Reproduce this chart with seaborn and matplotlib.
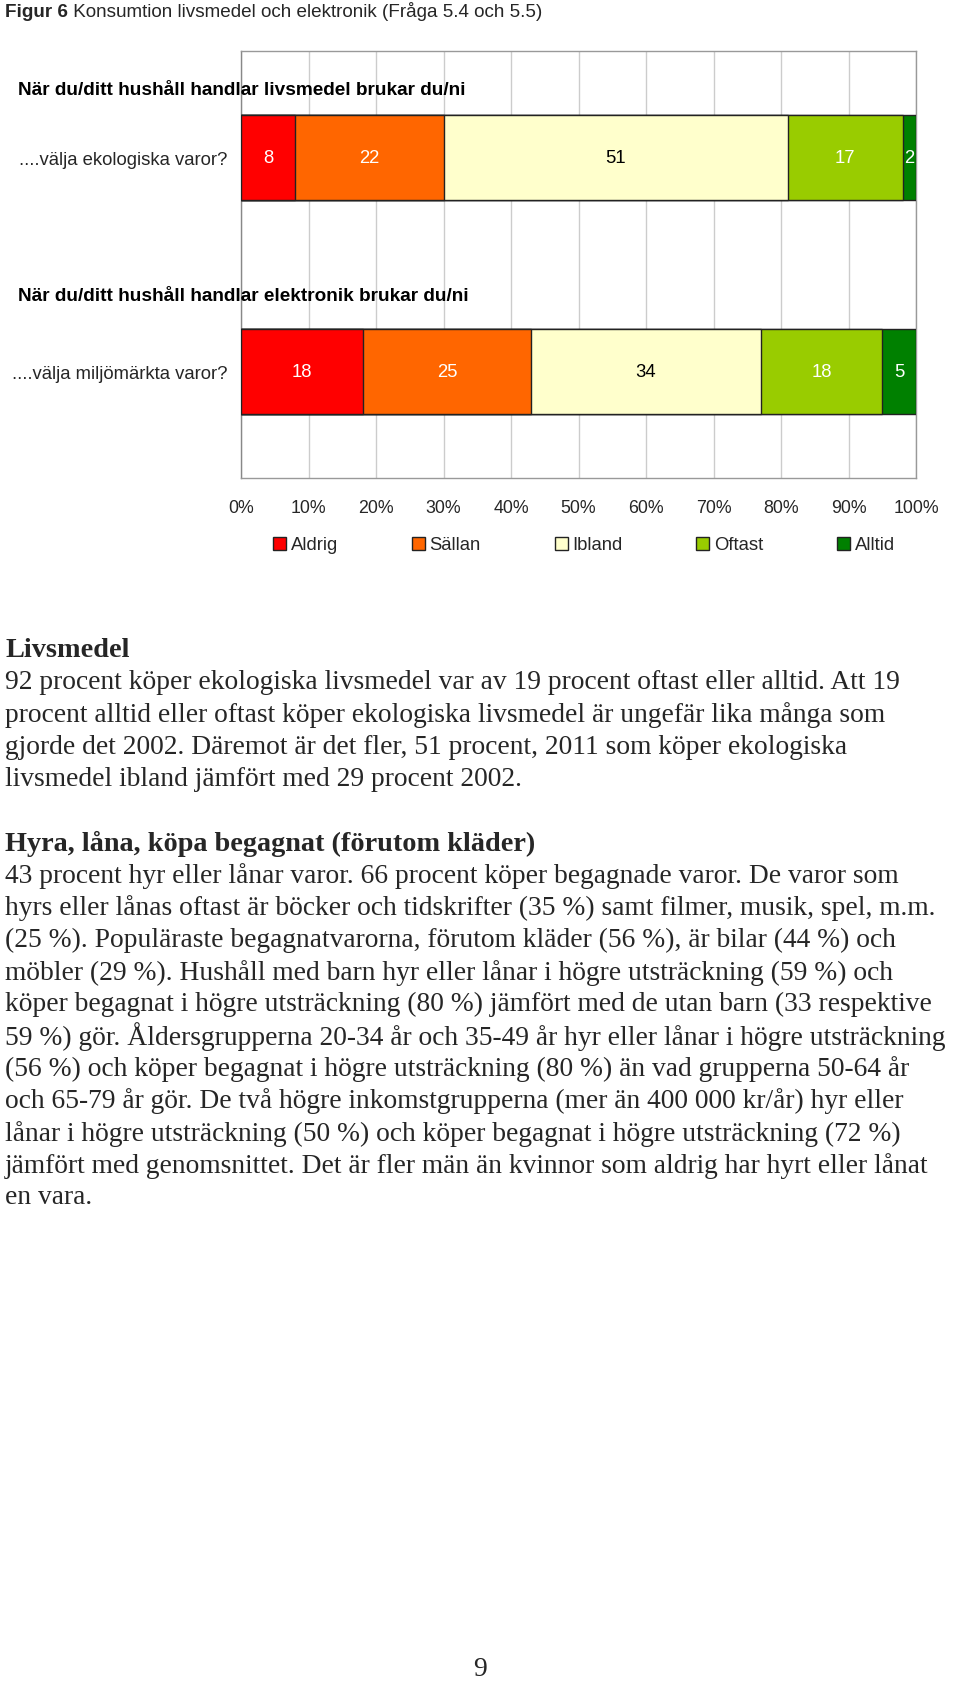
import matplotlib
matplotlib.use("Agg")
import matplotlib.pyplot as plt
import seaborn as sns
import pandas as pd
import numpy as np
from matplotlib.patches import Patch
import matplotlib.transforms as mtransforms

sns.set_theme(style="white")
plt.rcParams['font.family'] = ['Liberation Sans', 'DejaVu Sans']

# ---------------- data ----------------
questions = ["....välja ekologiska varor?", "....välja miljömärkta varor?"]
headers = ["När du/ditt hushåll handlar livsmedel brukar du/ni",
           "När du/ditt hushåll handlar elektronik brukar du/ni"]
levels = ["Aldrig", "Sällan", "Ibland", "Oftast", "Alltid"]
aldrig = [8, 18]
sallan = [22, 25]
ibland = [51, 34]
oftast = [17, 18]
alltid = [2, 5]
colors = ["#FF0000", "#FF6600", "#FFFFCC", "#99CC00", "#008000"]
label_colors = ["white", "white", "black", "white", "white"]
xticks = [0, 10, 20, 30, 40, 50, 60, 70, 80, 90, 100]
xticklabels = ["0%", "10%", "20%", "30%", "40%", "50%", "60%", "70%", "80%", "90%", "100%"]

title_bold = "Figur 6"
title_rest = " Konsumtion livsmedel och elektronik (Fråga 5.4 och 5.5)"

heading1 = "Livsmedel"
para1 = [
    "92 procent köper ekologiska livsmedel var av 19 procent oftast eller alltid. Att 19",
    "procent alltid eller oftast köper ekologiska livsmedel är ungefär lika många som",
    "gjorde det 2002. Däremot är det fler, 51 procent, 2011 som köper ekologiska",
    "livsmedel ibland jämfört med 29 procent 2002.",
]
heading2 = "Hyra, låna, köpa begagnat (förutom kläder)"
para2 = [
    "43 procent hyr eller lånar varor. 66 procent köper begagnade varor. De varor som",
    "hyrs eller lånas oftast är böcker och tidskrifter (35 %) samt filmer, musik, spel, m.m.",
    "(25 %). Populäraste begagnatvarorna, förutom kläder (56 %), är bilar (44 %) och",
    "möbler (29 %). Hushåll med barn hyr eller lånar i högre utsträckning (59 %) och",
    "köper begagnat i högre utsträckning (80 %) jämfört med de utan barn (33 respektive",
    "59 %) gör. Åldersgrupperna 20-34 år och 35-49 år hyr eller lånar i högre utsträckning",
    "(56 %) och köper begagnat i högre utsträckning (80 %) än vad grupperna 50-64 år",
    "och 65-79 år gör. De två högre inkomstgrupperna (mer än 400 000 kr/år) hyr eller",
    "lånar i högre utsträckning (50 %) och köper begagnat i högre utsträckning (72 %)",
    "jämfört med genomsnittet. Det är fler män än kvinnor som aldrig har hyrt eller lånat",
    "en vara.",
]
page_number = "9"

# ---------------- figure ----------------
W, H = 960, 1683
fig = plt.figure(figsize=(W / 100, H / 100), dpi=100)
fig.patch.set_facecolor("white")

def fx(px):
    return px / W

def fy(py):
    return 1 - py / H

ax = fig.add_axes([fx(241), fy(479), fx(916) - fx(241), fy(52) - fy(479)])

data = np.array([aldrig, sallan, ibland, oftast, alltid], dtype=float)
cum = np.cumsum(data, axis=0)

# draw widest cumulative first so narrower segments sit on top
for k in range(len(levels) - 1, -1, -1):
    df = pd.DataFrame({"q": questions, "v": cum[k]})
    sns.barplot(data=df, x="v", y="q", orient="h", color=colors[k],
                saturation=1, edgecolor="#222222", linewidth=1.0,
                width=0.4, ax=ax, zorder=3)

fs_chart = 13.3
# value labels
for k in range(len(levels)):
    for i in range(len(questions)):
        ax.text(cum[k][i] - data[k][i] / 2, i, f"{int(data[k][i])}",
                ha="center", va="center", fontsize=fs_chart,
                color=label_colors[k], zorder=5)

ax.set_xlim(0, 100)
ax.set_ylim(1.5, -0.5)
ax.set_xticks(xticks)
ax.set_xticklabels(xticklabels, fontsize=12.8)
ax.tick_params(axis="x", length=0, pad=15)
ax.tick_params(axis="y", length=0, pad=10, labelsize=fs_chart)
ax.set_xlabel("")
ax.set_ylabel("")
ax.xaxis.grid(True, color="#CCCCCC", linewidth=1.0, zorder=0)
ax.set_axisbelow(True)
for side, sp in ax.spines.items():
    sp.set_visible(True)
    sp.set_color("#999999")
    sp.set_linewidth(1.0)
ax.spines["left"].set_color("#888888")

# group headers
blend = mtransforms.blended_transform_factory(fig.transFigure, ax.transData)
for hy, txt in zip([-0.32, 0.643], headers):
    ax.text(fx(18), hy, txt, transform=blend,
            ha="left", va="center", fontsize=13.7, fontweight="bold", color="black")

# legend
handles = [Patch(facecolor=c, edgecolor="#222222", linewidth=1.0) for c in colors]
fig.legend(handles, levels, loc="center", bbox_to_anchor=(fx(584), fy(546)),
           ncol=5, frameon=False, fontsize=fs_chart, handlelength=0.7, handleheight=0.7,
           handletextpad=0.25, columnspacing=4.0)

# title
t1 = fig.text(fx(5), fy(17), title_bold, ha="left", va="baseline", fontsize=13.6, fontweight="bold")
fig.canvas.draw()
bb = t1.get_window_extent()
fig.text(bb.x1 / W, fy(17), title_rest, ha="left", va="baseline", fontsize=13.6)

# body text
serif = ['Liberation Serif', 'DejaVu Serif']
fs_body = 19.8
fs_head = 20.3
line_h = 32.2
fig.text(fx(5), fy(651), heading1, ha="left", va="center", fontsize=fs_head,
         fontweight="bold", family=serif)
for j, line in enumerate(para1):
    fig.text(fx(5), fy(683 + j * line_h), line, ha="left", va="center",
             fontsize=fs_body, family=serif)
fig.text(fx(5), fy(844), heading2, ha="left", va="center", fontsize=fs_head,
         fontweight="bold", family=serif)
for j, line in enumerate(para2):
    fig.text(fx(5), fy(876 + j * line_h), line, ha="left", va="center",
             fontsize=fs_body, family=serif)

fig.text(fx(480), fy(1670), page_number, ha="center", va="center",
         fontsize=fs_body, family=serif)

fig.savefig("out.png", dpi=100, facecolor="white")
